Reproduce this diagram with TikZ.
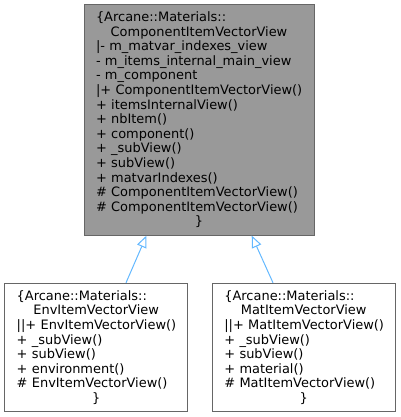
\documentclass[tikz,border=0pt]{standalone}
\usepackage{fontspec}
\setmainfont{DejaVu Sans}
\usetikzlibrary{arrows.meta}

\definecolor{boxline}{HTML}{666666}
\definecolor{basefill}{HTML}{999999}
\definecolor{inherit}{HTML}{63B8FF}

% a member line centred across the class box
\newcommand{\centredline}[1]{\makebox[\linewidth]{#1}}
% member lines are never hyphenated or broken
\newcommand{\memberlines}{\lefthyphenmin=62\relax \hbadness=10000\relax \hfuzz=20pt\relax}

\tikzset{
  classbox/.style={draw=boxline, line width=1pt, rectangle, inner xsep=12pt,
    inner ysep=0pt, align=left,
    font=\fontsize{12.95}{14.6}\selectfont,
    execute at begin node=\memberlines},
  inheritance/.style={draw=inherit, line width=1pt,
    -{Triangle[open, length=12pt, width=10pt, fill=white]}},
}

\begin{document}
\begin{tikzpicture}[x=1pt, y=-1pt]
  \useasboundingbox (0,0) rectangle (400,417);

  % base class
  \node[classbox, fill=basefill, text width=206pt, minimum height=230.3pt]
    (base) at (199,119.9) {%
    \{Arcane::Materials::\\
    \centredline{ComponentItemVectorView}\\
    |-~m\_matvar\_indexes\_view\\
    -~m\_items\_internal\_main\_view\\
    -~m\_component\\
    |+~ComponentItemVectorView()\\
    +~itemsInternalView()\\
    +~nbItem()\\
    +~component()\\
    +~\_subView()\\
    +~subView()\\
    +~matvarIndexes()\\
    \#~ComponentItemVectorView()\\
    \#~ComponentItemVectorView()\\
    \centredline{\}}};

  % derived classes
  \node[classbox, fill=white, text width=159pt, minimum height=128.4pt]
    (env) at (96.2,347.5) {%
    \{Arcane::Materials::\\
    \centredline{EnvItemVectorView}\\
    ||+~EnvItemVectorView()\\
    +~\_subView()\\
    +~subView()\\
    +~environment()\\
    \#~EnvItemVectorView()\\
    \centredline{\}}};

  \node[classbox, fill=white, text width=158.7pt, minimum height=128.4pt]
    (mat) at (303.7,347.5) {%
    \{Arcane::Materials::\\
    \centredline{MatItemVectorView}\\
    ||+~MatItemVectorView()\\
    +~\_subView()\\
    +~subView()\\
    +~material()\\
    \#~MatItemVectorView()\\
    \centredline{\}}};

  % inheritance arrows
  \draw[inheritance] ([xshift=29.8pt]env.north) -- ([xshift=-52.5pt]base.south);
  \draw[inheritance] ([xshift=-30.7pt]mat.north) -- ([xshift=52.7pt]base.south);
\end{tikzpicture}
\end{document}
